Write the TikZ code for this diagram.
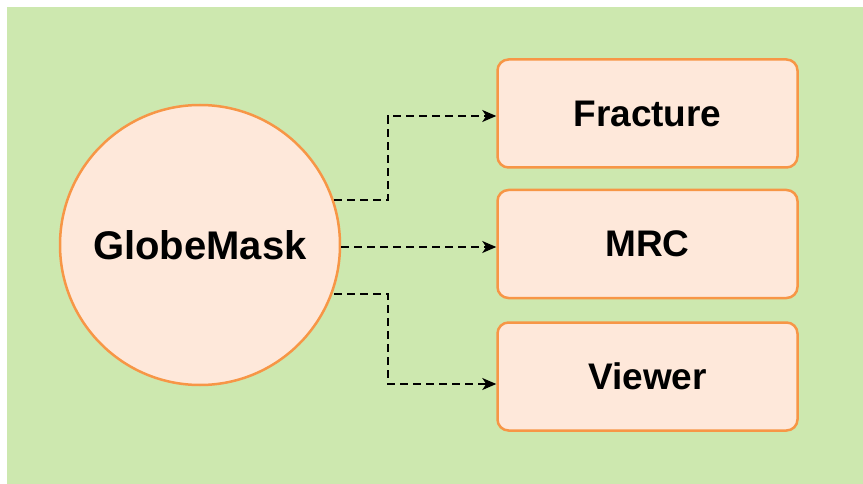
\documentclass[tikz,border=0pt]{standalone}
\usepackage{fontspec}
\setmainfont{Liberation Sans}
\usetikzlibrary{arrows.meta}
\definecolor{bggreen}{HTML}{CDE8AF}
\definecolor{peach}{HTML}{FEE8DA}
\definecolor{orangeline}{HTML}{F79646}
\tikzset{
  every node/.style={font=\fontsize{37}{40}\selectfont\bfseries},
  hub/.style={circle, draw=orangeline, fill=peach, line width=2.5pt, minimum size=280pt, inner sep=0pt, font=\fontsize{40}{44}\selectfont\bfseries},
  target/.style={rectangle, rounded corners=11pt, draw=orangeline, fill=peach, line width=2.5pt, minimum width=300pt, minimum height=108pt, inner sep=0pt},
  link/.style={draw=black, line width=1.6pt, dash pattern=on 8pt off 5pt, -{Stealth[length=14pt,width=12pt,inset=4pt]}}
}
\begin{document}
\begin{tikzpicture}[x=1pt,y=-1pt]
  % canvas
  \useasboundingbox (0,0) rectangle (863,484);
  \fill[white] (0,0) rectangle (863,484);
  \fill[bggreen] (7,7) rectangle (863,484);

  % central circle
  \node[hub] (g) at (200,245) {GlobeMask};

  % modules
  \node[target] (f) at (647.5,113.5) {Fracture};
  \node[target] (m) at (647.5,244) {MRC};
  \node[target] (v) at (647.5,376.5) {Viewer};

  % bend points
  \coordinate (b1) at (388,200);
  \coordinate (b2) at (388,116);
  \coordinate (b3) at (388,294);
  \coordinate (b4) at (388,384);

  % connectors
  \draw[link] (g.18 |- b1) -- (b1) -- (b2) -- (f.west |- b2);
  \draw[link] (g.east |- 0,247) -- (m.west |- 0,247);
  \draw[link] (g.-18 |- b3) -- (b3) -- (b4) -- (v.west |- b4);
\end{tikzpicture}
\end{document}
